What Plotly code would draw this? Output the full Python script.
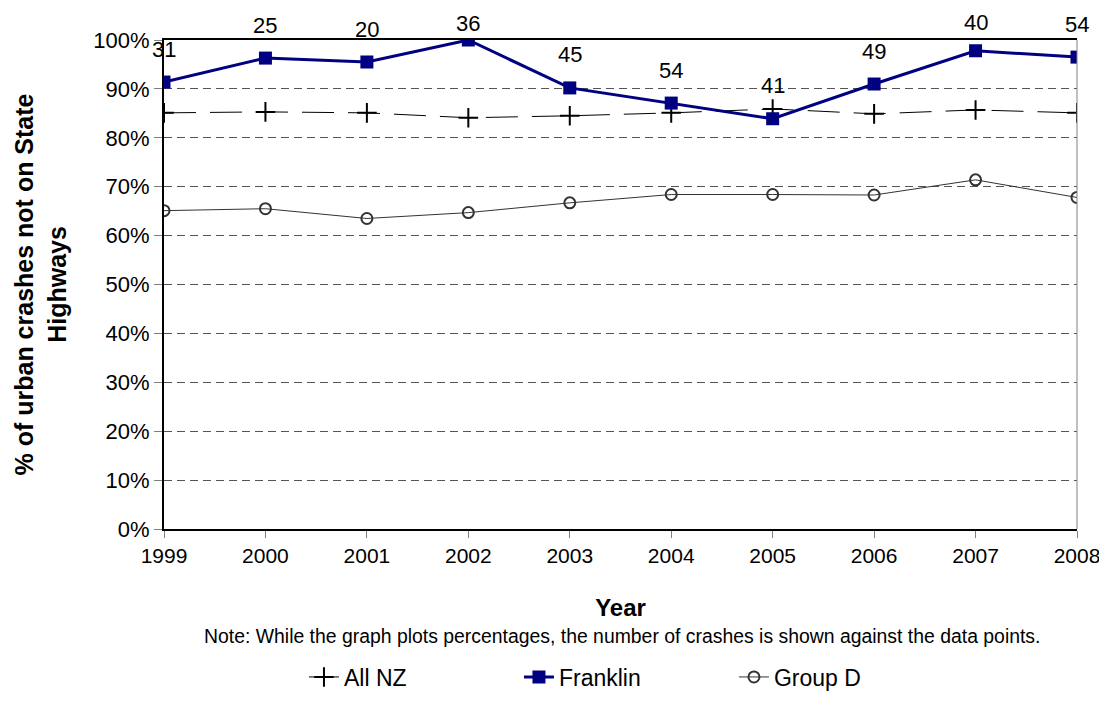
import plotly.graph_objects as go

years = [1999, 2000, 2001, 2002, 2003, 2004, 2005, 2006, 2007, 2008]
all_nz = [85.1, 85.3, 85.1, 84.1, 84.5, 85.1, 85.9, 84.9, 85.7, 85.1]
franklin = [91.4, 96.3, 95.5, 100.0, 90.2, 87.1, 83.9, 91.0, 97.8, 96.5]
group_d = [65.1, 65.5, 63.5, 64.7, 66.7, 68.4, 68.4, 68.3, 71.4, 67.8]
crash_counts = [31, 25, 20, 36, 45, 54, 41, 49, 40, 54]
y_ticks = [0, 10, 20, 30, 40, 50, 60, 70, 80, 90, 100]
y_tick_labels = [f"{v}%" for v in y_ticks]

FONT = "Liberation Sans, Arial, sans-serif"

# page body has an 8px margin, so the figure is sized to fit the window
W, H = 1099, 701
ML, MR, MT, MB = 156, 30, 32, 179
plot_h = H - MT - MB
y_min, y_max = 0, 100

fig = go.Figure()
fig.add_trace(go.Scatter(
    x=years, y=all_nz, name="All NZ", mode="lines+markers",
    line=dict(color="black", width=1, dash="32px,14px"),
    marker=dict(symbol="cross-thin", size=14, line=dict(color="black", width=2)),
))
fig.add_trace(go.Scatter(
    x=years, y=franklin, name="Franklin", mode="lines+markers",
    line=dict(color="#000080", width=3),
    marker=dict(symbol="square", size=13, color="#000080"),
))
fig.add_trace(go.Scatter(
    x=years, y=group_d, name="Group D", mode="lines+markers",
    line=dict(color="#333333", width=1),
    marker=dict(symbol="circle-open", size=11, color="#333333", line=dict(width=2)),
))

# count labels above Franklin points, kept inside the figure
for x, y, c in zip(years, franklin, crash_counts):
    py = MT + (y_max - y) / (y_max - y_min) * plot_h
    center = max(py - 33, 15)
    fig.add_annotation(x=x, y=y, text=str(c), showarrow=False, yshift=py - center,
                       font=dict(size=22, color="black", family=FONT))

fig.add_annotation(x=0.5016, y=-0.2184, xref="paper", yref="paper", yanchor="middle",
                   xanchor="center",
                   text="Note: While the graph plots percentages, the number of crashes is shown against the data points.",
                   showarrow=False, font=dict(size=19.4, color="black", family=FONT))

fig.add_shape(type="line", xref="paper", yref="paper", x0=1, x1=1, y0=0, y1=1,
              line=dict(color="#808080", width=1))

fig.update_layout(
    width=W, height=H,
    margin=dict(l=ML, r=MR, t=MT, b=MB),
    paper_bgcolor="white", plot_bgcolor="white",
    font=dict(family=FONT, size=22, color="black"),
    showlegend=True,
    legend=dict(orientation="h", x=0.1533, xanchor="left", y=-0.3, yanchor="middle",
                font=dict(size=23), entrywidth=170, entrywidthmode="pixels",
                tracegroupgap=0),
    xaxis=dict(
        range=[1999, 2008], tickmode="array", tickvals=years,
        ticks="outside", ticklen=7, tickcolor="#808080",
        showline=True, linecolor="black", linewidth=2, mirror=True,
        showgrid=False, zeroline=False, automargin=False,
        ticklabeloverflow="allow",
        title=dict(text="<b>Year</b>", standoff=33, font=dict(size=24)),
        tickfont=dict(size=21),
    ),
    yaxis=dict(
        range=[y_min, y_max], tickmode="array", tickvals=y_ticks, ticktext=y_tick_labels,
        ticks="outside", ticklen=8, tickcolor="#808080",
        showline=True, linecolor="black", linewidth=2,
        showgrid=True, gridcolor="#555555", griddash="8px,5px", gridwidth=1,
        zeroline=False, automargin=False,
        title=dict(text="<b>% of urban crashes not on State<br>Highways</b>", standoff=20,
                   font=dict(size=25)),
        tickfont=dict(size=22),
    ),
)

fig.write_html("out.html")
